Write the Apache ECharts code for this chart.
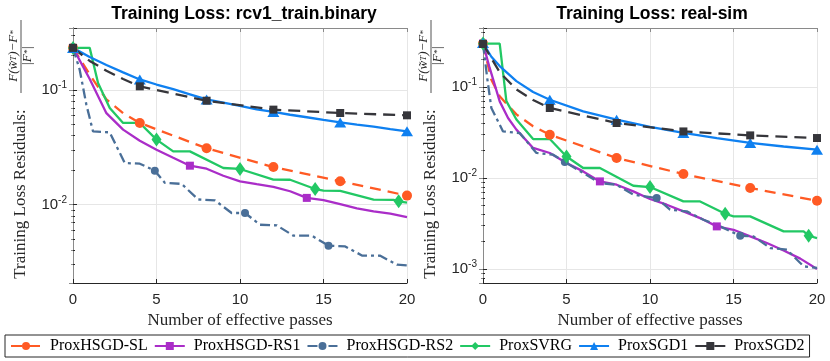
<!DOCTYPE html>
<html style="height: 100%">
<head>
<meta charset="utf-8">
</head>
<body style="height: 100%; margin: 0; background: #fff">
<div id="container" style="width: 830px; height: 361px"></div>
<script type="text/javascript" src="https://cdn.jsdelivr.net/npm/echarts@6.0.0/dist/echarts.min.js"></script>
<script type="text/javascript">

var names = ['ProxHSGD-SL', 'ProxHSGD-RS1', 'ProxHSGD-RS2', 'ProxSVRG', 'ProxSGD1', 'ProxSGD2'];
var titles = ['Training Loss: rcv1_train.binary', 'Training Loss: real-sim'];
var xTicks = [0, 5, 10, 15, 20];

// ---- rcv1_train.binary ----
var rcvSL_x  = [0, 1, 2, 3, 4, 8, 12, 16, 20];
var rcvSL_y  = [0.234, 0.137, 0.083, 0.063, 0.0517, 0.0311, 0.0213, 0.0160, 0.0120];
var rcvSL_mk = [0, 4, 8, 12, 16, 20];

var rcvRS1_x  = [0, 1, 2, 3, 4, 5, 6, 7, 8, 9, 10, 11, 12, 13, 14, 15, 16, 17, 18, 19, 20];
var rcvRS1_y  = [0.234, 0.125, 0.063, 0.0452, 0.0362, 0.0302, 0.0257, 0.0219, 0.0206, 0.0179, 0.0160,
                 0.0151, 0.0143, 0.0131, 0.01146, 0.01094, 0.0101, 0.0093, 0.00873, 0.00834, 0.0078];
var rcvRS1_mk = [0, 7, 14];

var rcvRS2_x  = [0, 0.4, 0.8, 1.2, 2.2, 3.1, 4.0, 4.9, 5.5, 6.5, 7.5, 8.5, 9.5, 10.3, 11.2, 12.2,
                 13.2, 14.3, 15.3, 16.3, 17.3, 18.4, 19.4, 20];
var rcvRS2_y  = [0.234, 0.151, 0.0747, 0.0436, 0.0428, 0.0231, 0.0228, 0.0198, 0.0155, 0.0152, 0.0111,
                 0.0109, 0.00846, 0.00846, 0.00668, 0.0066, 0.00536, 0.00536, 0.00438, 0.00432,
                 0.0036, 0.00358, 0.00299, 0.00295];
var rcvRS2_mk = [0, 4.9, 10.3, 15.3];

var rcvSVRG_x  = [0, 1, 1.5, 2.2, 3, 4, 5, 6, 7, 9, 10, 12, 13, 14.5, 15, 16, 18, 19.2, 19.5, 20];
var rcvSVRG_y  = [0.234, 0.234, 0.1156, 0.070, 0.0517, 0.0517, 0.0370, 0.0292, 0.0292, 0.0209, 0.0205,
                  0.01653, 0.0165, 0.0137, 0.01325, 0.0132, 0.01107, 0.0110, 0.0107, 0.0104];
var rcvSVRG_mk = [0, 5, 10, 14.5, 19.5];

var rcvSGD1_x  = [0, 1, 2, 3, 4, 5, 6, 7, 8, 9, 10, 11, 12, 13, 14, 15, 16, 17, 18, 19, 20];
var rcvSGD1_y  = [0.234, 0.195, 0.166, 0.143, 0.124, 0.112, 0.102, 0.092, 0.083, 0.078, 0.073,
                  0.068, 0.0645, 0.061, 0.058, 0.055, 0.0523, 0.050, 0.048, 0.0457, 0.0437];
var rcvSGD1_mk = [0, 4, 8, 12, 16, 20];

var rcvSGD2_x  = [0, 1, 2, 3, 4, 8, 12, 16, 20];
var rcvSGD2_y  = [0.234, 0.18, 0.148, 0.125, 0.108, 0.0809, 0.0676, 0.0632, 0.0603];
var rcvSGD2_mk = [0, 4, 8, 12, 16, 20];

// ---- real-sim ----
var simSL_x  = [0, 0.5, 1, 2, 3, 4, 8, 12, 16, 20];
var simSL_y  = [0.30, 0.12, 0.079, 0.05, 0.037, 0.0299, 0.0166, 0.01107, 0.00776, 0.00563];
var simSL_mk = [0, 4, 8, 12, 16, 20];

var simRS1_x  = [0, 0.4, 1, 1.5, 2, 3, 4, 5, 6, 7, 8, 9, 10, 11, 12, 13, 14, 15, 16, 17, 18, 19, 20];
var simRS1_y  = [0.30, 0.162, 0.0695, 0.0456, 0.034, 0.0214, 0.01884, 0.01463, 0.01182, 0.00918, 0.00844,
                 0.00713, 0.00588, 0.00509, 0.0043, 0.00363, 0.00294, 0.0027, 0.00228, 0.00193,
                 0.0016, 0.0013, 0.001];
var simRS1_mk = [0, 7, 14];

var simRS2_x  = [0, 0.25, 0.5, 1.2, 2.2, 3.2, 4.2, 4.9, 6, 7, 8, 9, 10.4, 11.2, 12.2, 13.2, 14.2,
                 15.4, 16.2, 17.2, 18.2, 19.2, 20];
var simRS2_y  = [0.30, 0.126, 0.0588, 0.0325, 0.0312, 0.01884, 0.01804, 0.0150, 0.01135, 0.00881,
                 0.00844, 0.00656, 0.00603, 0.00449, 0.0043, 0.00348, 0.00294, 0.00232, 0.00228,
                 0.0017, 0.00163, 0.00107, 0.00103];
var simRS2_mk = [0, 4.9, 10.4, 15.4];

var simSVRG_x  = [0, 1, 1.4, 2, 3, 4, 5, 6, 7, 9, 10, 12, 13, 14.5, 15, 16, 18, 19.2, 19.5, 20];
var simSVRG_y  = [0.30, 0.30, 0.07, 0.044, 0.0268, 0.0268, 0.01726, 0.01288, 0.0129, 0.00822, 0.00796,
                  0.00553, 0.00553, 0.00405, 0.00379, 0.00379, 0.00259, 0.00259, 0.00232, 0.00219];
var simSVRG_mk = [0, 5, 10, 14.5, 19.5];

var simSGD1_x  = [0, 0.5, 1, 2, 3, 4, 6, 8, 10, 12, 14, 16, 18, 20];
var simSGD1_y  = [0.304, 0.215, 0.170, 0.116, 0.088, 0.0725, 0.054, 0.0438, 0.0365, 0.0313,
                  0.0275, 0.0243, 0.0222, 0.0205];
var simSGD1_mk = [0, 4, 8, 12, 16, 20];

var simSGD2_x  = [0, 1, 2, 3, 4, 8, 12, 16, 20];
var simSGD2_y  = [0.297, 0.145, 0.094, 0.072, 0.0588, 0.0402, 0.0325, 0.0294, 0.0275];
var simSGD2_mk = [0, 4, 8, 12, 16, 20];

// y extents of the two log axes
var yRange = [[0.00207, 0.349], [0.000702, 0.445]];

// line styles for the six methods
var styles = [
    {color: '#ff5a24', type: [11, 7], symbol: 'circle', size: 10},
    {color: '#aa2dc8', type: 'solid', symbol: 'rect', size: 8},
    {color: '#4a6f98', type: [10, 4, 3, 4], symbol: 'circle', size: 8},
    {color: '#22c864', type: 'solid', symbol: 'diamond', size: [10, 14]},
    {color: '#0f80f0', type: 'solid', symbol: 'triangle', size: [12, 10]},
    {color: '#36363b', type: [12, 7], symbol: 'rect', size: 8}
];

var plots = [
    [[rcvSL_x, rcvSL_y, rcvSL_mk], [rcvRS1_x, rcvRS1_y, rcvRS1_mk], [rcvRS2_x, rcvRS2_y, rcvRS2_mk],
     [rcvSVRG_x, rcvSVRG_y, rcvSVRG_mk], [rcvSGD1_x, rcvSGD1_y, rcvSGD1_mk], [rcvSGD2_x, rcvSGD2_y, rcvSGD2_mk]],
    [[simSL_x, simSL_y, simSL_mk], [simRS1_x, simRS1_y, simRS1_mk], [simRS2_x, simRS2_y, simRS2_mk],
     [simSVRG_x, simSVRG_y, simSVRG_mk], [simSGD1_x, simSGD1_y, simSGD1_mk], [simSGD2_x, simSGD2_y, simSGD2_mk]]
];

var gridLeft = [73, 483];
var sansFont = 'Liberation Sans, Arial, sans-serif';
var serifFont = 'Liberation Serif, Times New Roman, serif';

function logLabel(v) {
    var e = Math.log10(v);
    var r = Math.round(e);
    if (Math.abs(e - r) > 1e-6) return '';
    return '{b|10}{s|' + r + '}';
}

var grids = [], xAxes = [], yAxes = [], series = [], graphics = [];

for (var p = 0; p < 2; p++) {
    grids.push({left: gridLeft[p], top: 28, width: 334, height: 255});
    // bottom x axis
    xAxes.push({
        type: 'value', gridIndex: p, min: 0, max: 20, interval: 5,
        name: 'Number of effective passes', nameLocation: 'middle', nameGap: 25,
        nameTextStyle: {fontFamily: serifFont, fontSize: 17, color: '#262626'},
        axisLine: {lineStyle: {color: '#262626', width: 1}},
        axisTick: {inside: true, length: 4, lineStyle: {color: '#262626'}},
        axisLabel: {fontFamily: sansFont, fontSize: 15, color: '#262626', margin: 9},
        splitLine: {show: true, lineStyle: {color: '#e6e6e6', width: 1}}
    });
    // top x axis (box)
    xAxes.push({
        type: 'value', gridIndex: p, position: 'top', min: 0, max: 20, interval: 5,
        axisLine: {show: true, lineStyle: {color: '#8a8a8a', width: 1}},
        axisTick: {inside: true, length: 4, lineStyle: {color: '#8a8a8a'}},
        axisLabel: {show: false}, splitLine: {show: false}
    });
    yAxes.push({
        type: 'log', gridIndex: p, min: yRange[p][0], max: yRange[p][1],
        axisLine: {show: true, lineStyle: {color: '#262626', width: 1}},
        axisTick: {inside: true, length: 4, lineStyle: {color: '#262626'}},
        minorTick: {show: true, splitNumber: 9, length: 2, lineStyle: {color: '#262626'}},
        axisLabel: {
            showMinLabel: false, showMaxLabel: false, margin: 6, formatter: logLabel,
            rich: {
                b: {fontFamily: sansFont, fontSize: 15, color: '#262626'},
                s: {fontFamily: sansFont, fontSize: 10, color: '#262626', padding: [0, 0, 9, 0]}
            }
        },
        splitLine: {show: true, lineStyle: {color: '#e6e6e6', width: 1}}
    });
    yAxes.push({
        type: 'log', gridIndex: p, position: 'right', min: yRange[p][0], max: yRange[p][1],
        axisLine: {show: true, lineStyle: {color: '#8a8a8a', width: 1}},
        axisTick: {inside: true, length: 4, lineStyle: {color: '#8a8a8a'}},
        minorTick: {show: true, splitNumber: 9, length: 2, lineStyle: {color: '#8a8a8a'}},
        axisLabel: {show: false}, splitLine: {show: false}
    });

    for (var s = 0; s < 6; s++) {
        var d = plots[p][s], st = styles[s], data = [];
        for (var i = 0; i < d[0].length; i++) {
            var item = {value: [d[0][i], d[1][i]]};
            if (d[2].indexOf(d[0][i]) < 0) item.symbol = 'none';
            data.push(item);
        }
        series.push({
            name: names[s], type: 'line', xAxisIndex: p * 2, yAxisIndex: p * 2,
            data: data, symbol: st.symbol, symbolSize: st.size, showSymbol: true,
            animation: false, silent: true,
            lineStyle: {color: st.color, width: 2.3, type: st.type},
            itemStyle: {color: st.color, borderWidth: 0}
        });
    }

    var ox = p * 410;
    graphics.push({
        type: 'text', x: 244 + ox + (p ? -2 : 0), y: 14,
        style: {text: titles[p], font: 'bold 17.5px ' + sansFont, fill: '#000',
                textAlign: 'center', textVerticalAlign: 'middle', align: 'center', verticalAlign: 'middle'}
    });
    graphics.push({
        type: 'text', x: 21 + ox, y: 194, rotation: Math.PI / 2,
        style: {text: 'Training Loss Residuals:', font: '17px ' + serifFont, fill: '#262626',
                textAlign: 'center', textVerticalAlign: 'middle', align: 'center', verticalAlign: 'middle'}
    });
    graphics.push({
        type: 'text', x: 14 + ox, y: 56, rotation: Math.PI / 2,
        style: {text: 'F(w\u0303{t|T})\u2212F{t|*}', font: 'italic 13px ' + serifFont, fill: '#262626',
                textAlign: 'center', textVerticalAlign: 'middle', align: 'center', verticalAlign: 'middle',
                rich: {t: {font: 'italic 9px ' + serifFont, fill: '#262626'}}}
    });
    graphics.push({
        type: 'line', shape: {x1: 21 + ox, y1: 20, x2: 21 + ox, y2: 93},
        style: {stroke: '#262626', lineWidth: 0.8}
    });
    graphics.push({
        type: 'text', x: 28 + ox, y: 56, rotation: Math.PI / 2,
        style: {text: '|F{t|*}|', font: 'italic 13px ' + serifFont, fill: '#262626',
                textAlign: 'center', textVerticalAlign: 'middle', align: 'center', verticalAlign: 'middle',
                rich: {t: {font: 'italic 9px ' + serifFont, fill: '#262626'}}}
    });
}

var dom = document.getElementById('container');
var myChart = echarts.init(dom, null, {renderer: 'canvas'});
var option = {
    backgroundColor: '#fff',
    animation: false,
    grid: grids,
    xAxis: xAxes,
    yAxis: yAxes,
    legend: {
        data: names, left: 5, right: 2, top: 335, padding: [3, 5], itemGap: 6,
        itemWidth: 30, itemHeight: 10,
        borderColor: '#262626', borderWidth: 1,
        textStyle: {fontFamily: serifFont, fontSize: 16, color: '#000', padding: [0, 0, 0, 4]}
    },
    graphic: graphics,
    series: series
};
myChart.setOption(option);
</script>
</body>
</html>
